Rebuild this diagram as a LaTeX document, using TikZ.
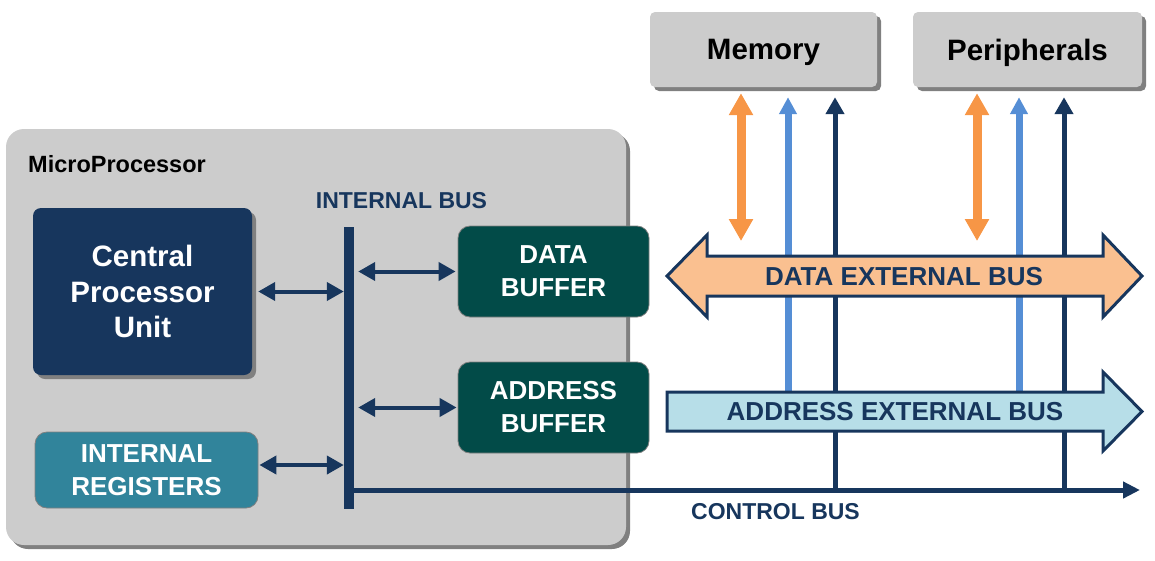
\documentclass[tikz,border=0pt]{standalone}
\usepackage{fontspec}
\setmainfont{Liberation Sans}
\usetikzlibrary{arrows.meta,shadows}
\definecolor{navy}{HTML}{17365D}
\definecolor{tealdk}{HTML}{024B48}
\definecolor{regc}{HTML}{31849B}
\definecolor{boxgray}{HTML}{CCCCCC}
\definecolor{shgray}{HTML}{808080}
\definecolor{orng}{HTML}{F79646}
\definecolor{lblue}{HTML}{558ED5}
\definecolor{dfill}{HTML}{FAC090}
\definecolor{afill}{HTML}{B7DEE8}
\begin{document}
\begin{tikzpicture}[x=1pt,y=-1pt,
  shad/.style={drop shadow={shadow xshift=4pt,shadow yshift=-4pt,fill=shgray,opacity=1}},
  graybox/.style={shad,fill=boxgray,rounded corners=5pt,inner sep=0pt,minimum height=75pt,text depth=0pt,
    font=\bfseries\fontsize{29.5}{34}\selectfont,text=black},
  bufbox/.style={fill=tealdk,draw=shgray,line width=0.8pt,rounded corners=12pt,inner sep=0pt,
    minimum width=191pt,minimum height=91pt,align=center,text=white,font=\bfseries\fontsize{26}{33}\selectfont},
  dbl/.style={navy,line width=4pt,{Triangle[length=17pt,width=18pt]}-{Triangle[length=17pt,width=18pt]}},
  bustext/.style={text=navy,font=\bfseries\fontsize{23}{28}\selectfont,inner sep=0pt,anchor=base},
  exttext/.style={text=navy,font=\bfseries\fontsize{26}{30}\selectfont,inner sep=0pt,anchor=base},
  oarr/.style={orng,line width=9pt,{Triangle[length=22pt,width=23pt]}-{Triangle[length=22pt,width=23pt]},shorten <=6pt},
  barr/.style={lblue,line width=7pt,{Triangle[length=17pt,width=17pt]}-,shorten <=10pt},
  narr/.style={navy,line width=5pt,{Triangle[length=17pt,width=18pt]}-,shorten <=10pt}
]
\useasboundingbox (0,0) rectangle (1155,560);

% MicroProcessor frame
\node[shad,fill=boxgray,rounded corners=18pt,minimum width=620pt,minimum height=416pt,inner sep=0pt] (mp) at (316,337) {};
\node[anchor=base west,inner sep=0pt,font=\bfseries\fontsize{23.5}{28}\selectfont] (mplabel) at (28,172) {MicroProcessor};

% inner blocks
\node[shad,fill=navy,rounded corners=8pt,minimum width=219pt,minimum height=167pt,inner sep=0pt,
  align=center,text=white,font=\bfseries\fontsize{29.5}{35.5}\selectfont] (cpu) at (142.5,291.5) {Central\\Processor\\Unit};
\node[fill=regc,draw=shgray,line width=0.8pt,rounded corners=12pt,minimum width=223pt,minimum height=76pt,inner sep=0pt,
  align=center,text=white,font=\bfseries\fontsize{26}{33}\selectfont] (reg) at (146.5,470) {INTERNAL\\REGISTERS};
\node[bufbox] (dbuf) at (553.5,271.5) {DATA\\BUFFER};
\node[bufbox] (abuf) at (553.5,407.5) {ADDRESS\\BUFFER};

% internal bus
\node[fill=navy,minimum width=10pt,minimum height=282pt,inner sep=0pt] (ibus) at (349,368) {};
\node[bustext] (ibuslabel) at (401.5,208) {INTERNAL BUS};

\draw[dbl] ([xshift=6pt]cpu.east) -- (cpu.east -| ibus.west);
\draw[dbl] ([xshift=4pt]ibus.east |- dbuf.west) -- ([xshift=-2pt]dbuf.west);
\draw[dbl] ([xshift=4pt]ibus.east |- abuf.west) -- ([xshift=-1pt]abuf.west);
\coordinate (rega) at ([yshift=5pt]reg.east);
\draw[dbl] ([xshift=1pt]rega) -- (rega -| ibus.west);

% external units
\node[graybox,minimum width=227pt] (mem) at (763.5,49.5) {Memory};
\node[graybox,minimum width=229pt] (per) at (1027.5,49.5) {Peripherals};

% bus end points
\coordinate (m1) at (741,241);
\coordinate (m2) at (788,392);
\coordinate (m3) at (835,490);
\coordinate (p1) at (977,241);
\coordinate (p2) at (1019,392);
\coordinate (p3) at (1064,490);
\coordinate (cbend) at (1140,490);

\draw[oarr] (m1 |- mem.south) -- (m1);
\draw[barr] (m2 |- mem.south) -- (m2);
\draw[narr] (m3 |- mem.south) -- (m3);
\draw[oarr] (p1 |- per.south) -- (p1);
\draw[barr] (p2 |- per.south) -- (p2);
\draw[narr] (p3 |- per.south) -- (p3);

% control bus
\draw[navy,line width=5pt,-{Triangle[length=17pt,width=16pt]}] (ibus.east |- cbend) -- (cbend);
\node[bustext] (cbuslabel) at (775.5,519) {CONTROL BUS};

% external buses
\draw[navy,line width=3pt,fill=dfill,line join=miter]
  (667,276) -- (707,235) -- (707,256) -- (1103,256) -- (1103,235) -- (1142,276)
  -- (1103,317) -- (1103,296) -- (707,296) -- (707,317) -- cycle;
\node[exttext] (dbus) at (904,285) {DATA EXTERNAL BUS};
\draw[navy,line width=3pt,fill=afill,line join=miter]
  (667,392) -- (1103,392) -- (1103,372) -- (1142,411.5) -- (1103,451) -- (1103,431) -- (667,431) -- cycle;
\node[exttext] (abus) at (895,420) {ADDRESS EXTERNAL BUS};
\end{tikzpicture}
\end{document}
